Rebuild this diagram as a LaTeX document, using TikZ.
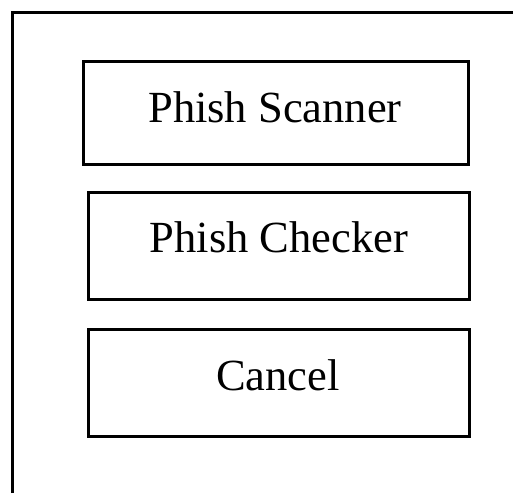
\documentclass[tikz,border=0pt]{standalone}
\usepackage{fontspec}
\setmainfont{Liberation Serif}
\begin{document}
\begin{tikzpicture}[x=1pt,y=-1pt,
  btnbox/.style={draw=black,line width=3pt,rectangle,inner sep=0pt},
  btntext/.style={anchor=base,inner sep=0pt,font=\fontsize{44.5}{50}\selectfont}]
\useasboundingbox (0,0) rectangle (513,493);
\coordinate (fb) at (12,493);
\coordinate (fc) at (12,12);
\coordinate (fr) at (513,12);
\draw[line width=3pt] (fb) -- (fc) -- (fr);
\node[btnbox,minimum width=385pt,minimum height=103pt] (b1) at (275.5,112.5) {};
\node[btnbox,minimum width=381pt,minimum height=107pt] (b2) at (278.5,245.5) {};
\node[btnbox,minimum width=381pt,minimum height=107pt] (b3) at (278.5,382.5) {};
\node[btntext] (t1) at (275,122) {Phish Scanner};
\node[btntext] (t2) at (279,252) {Phish Checker};
\node[btntext] (t3) at (278,390) {Cancel};
\end{tikzpicture}
\end{document}
